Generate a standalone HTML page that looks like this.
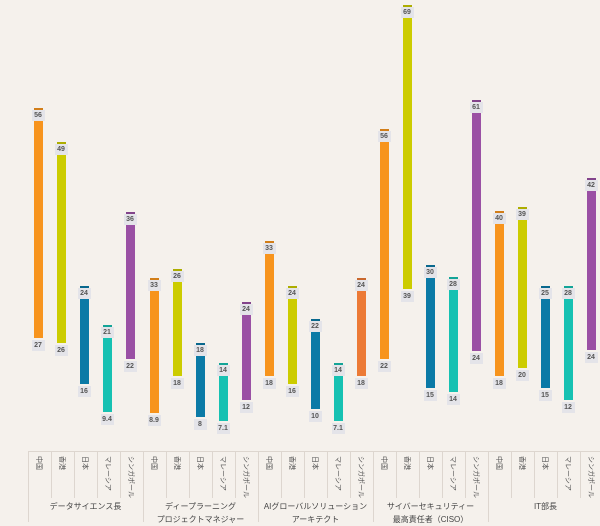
<!DOCTYPE html>
<html><head><meta charset="utf-8"><style>
body{margin:0;width:600px;height:522px;background:#f5f1ec;overflow:hidden;position:relative;font-family:"Liberation Sans","Noto Sans CJK JP",sans-serif}
.b{position:absolute;width:9px}
.c{position:absolute;width:9px;height:2px}
.l{position:absolute;width:13px;height:11px;background:#e4e4e9;color:#555;font-size:7px;font-weight:bold;text-align:center;line-height:11px}
.v{position:absolute;background:#ddd6cf;width:1px}
.h{position:absolute;background:#ddd6cf;height:1px}
.t{position:absolute;font-size:7px;color:#555;transform-origin:0 0;transform:rotate(90deg);white-space:nowrap}
.g{position:absolute;font-size:8px;color:#444;text-align:center;width:115px;line-height:13px}
</style></head><body>
<div id="c"></div>
<script>
var C={o:'#f7941d',y:'#cccc00',b:'#0b7aa6',t:'#16c1b2',p:'#9a50a4',r:'#ec7a36'};
var d=[
[38,'o',108,338,56,27],[61,'y',142,343,49,26],[84,'b',286,384,24,16],[107,'t',325,412,21,9.4],[130,'p',212,359,36,22],
[154,'o',278,413,33,8.9],[177,'y',269,376,26,18],[200,'b',343,417,18,8],[223,'t',363,421,14,7.1],[246,'p',302,400,24,12],
[269,'o',241,376,33,18],[292,'y',286,384,24,16],[315,'b',319,409,22,10],[338,'t',363,421,14,7.1],[361,'r',278,376,24,18],
[384,'o',129,359,56,22],[407,'y',5,289,69,39],[430,'b',265,388,30,15],[453,'t',277,392,28,14],[476,'p',100,351,61,24],
[499,'o',211,376,40,18],[522,'y',207,368,39,20],[545,'b',286,388,25,15],[568,'t',286,400,28,12],[591,'p',178,350,42,24]];
var h='';
d.forEach(function(e){var x=e[0]-4.5,c=C[e[1]];
h+='<div class="c" style="left:'+x+'px;top:'+e[2]+'px;background:'+c+';filter:brightness(.85)"></div>';
h+='<div class="b" style="left:'+x+'px;top:'+(e[2]+13)+'px;height:'+(e[3]-e[2]-13)+'px;background:'+c+'"></div>';
h+='<div class="l" style="left:'+(e[0]-6.5)+'px;top:'+(e[2]+2)+'px">'+e[4]+'</div>';
h+='<div class="l" style="left:'+(e[0]-6.5)+'px;top:'+(e[3]+2)+'px">'+e[5]+'</div>';});
h+='<div class="h" style="left:28px;top:451px;width:572px"></div>';
var n=['中国','香港','日本','マレーシア','シンガポール'];
for(var i=0;i<25;i++){var x=28+i*23;
h+='<div class="v" style="left:'+x+'px;top:451px;height:'+(i%5==0?71:47)+'px"></div>';
h+='<div class="t" style="left:'+(x+16)+'px;top:456px">'+n[i%5]+'</div>';}
var g=['データサイエンス長','ディープラーニング<br>プロジェクトマネジャー','AIグローバルソリューション<br>アーキテクト','サイバーセキュリティー<br>最高責任者（CISO）','IT部長'];
g.forEach(function(s,i){h+='<div class="g" style="left:'+(28+i*115)+'px;top:500px">'+s+'</div>';});
document.getElementById('c').innerHTML=h;
</script>
</body></html>
